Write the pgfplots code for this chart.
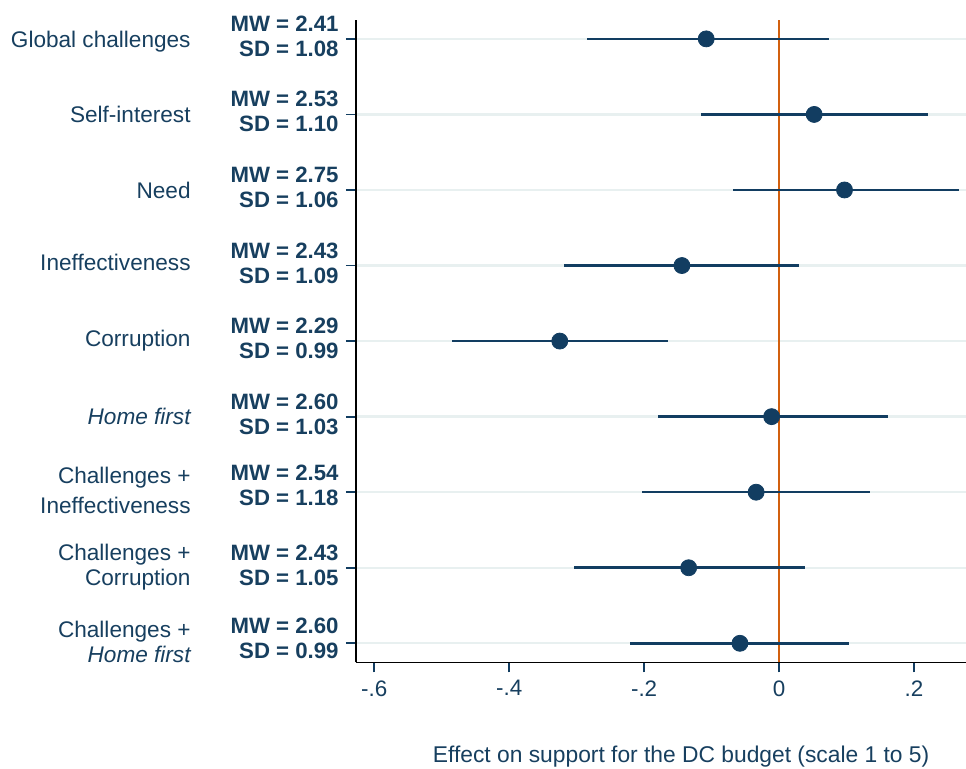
\documentclass[border=0pt]{standalone}
\usepackage{pgfplots}
\pgfplotsset{compat=1.18}
\usepackage{pgfplotstable}
\usepackage{fontspec}
\setmainfont{Liberation Sans}
\definecolor{navy}{HTML}{123D61}
\definecolor{txt}{HTML}{173F5F}
\definecolor{zero}{HTML}{D2600F}
\definecolor{gridc}{HTML}{E8F0F0}
\pgfplotstableread{
row est lo hi
9 -0.108 -0.285 0.074
8 0.052 -0.116 0.221
7 0.097 -0.069 0.266
6 -0.144 -0.318 0.030
5 -0.325 -0.485 -0.165
4 -0.011 -0.180 0.161
3 -0.034 -0.203 0.135
2 -0.134 -0.304 0.039
1 -0.058 -0.221 0.104
}\coefs
\newcommand{\lab}[4][0pt]{\makebox[95pt][r]{\fontsize{11.3}{12.5}\selectfont\raisebox{-#1}{\begin{tabular}{@{}r@{}}#2\end{tabular}}}\makebox[74pt][r]{\bfseries\begin{tabular}{@{}r@{}}MW = #3\\SD = #4\end{tabular}}}
\begin{document}
\begin{tikzpicture}
\useasboundingbox (-178pt,-53.25pt) rectangle (305pt,331.25pt);
\begin{axis}[
  at={(0,0)}, anchor=south west,
  scale only axis, width=305pt, height=321.25pt,
  xmin=-0.627, xmax=0.277, ymin=0.746, ymax=9.25,
  axis x line=bottom, axis y line=left,
  axis line style={-, black, line width=0.9pt},
  tick align=outside, major tick length=5pt,
  tick style={navy, line width=0.9pt},
  xtick={-0.6,-0.4,-0.2,0,0.2},
  xticklabels={-.6,-.4,-.2,0,.2},
  ytick={1,...,9},
  yticklabels={
    {\lab[2pt]{Challenges +\\\itshape Home first}{2.60}{0.99}},
    {\lab{Challenges +\\Corruption}{2.43}{1.05}},
    {\lab[3pt]{Challenges +\\[2.5pt]Ineffectiveness}{2.54}{1.18}},
    {\lab[1.5pt]{\itshape Home first}{2.60}{1.03}},
    {\lab{Corruption}{2.29}{0.99}},
    {\lab{Ineffectiveness}{2.43}{1.09}},
    {\lab[2pt]{Need}{2.75}{1.06}},
    {\lab[1.5pt]{Self-interest}{2.53}{1.10}},
    {\lab[2pt]{Global challenges}{2.41}{1.08}}},
  yticklabel style={font=\fontsize{11.1}{12.5}\selectfont, text=txt, anchor=east, inner sep=0pt, xshift=-3.5pt},
  xticklabel style={font=\fontsize{11.2}{13}\selectfont, text=txt, anchor=north, inner sep=0pt, yshift=-3.75pt},
  ymajorgrids, grid style={gridc, line width=1.2pt},
  clip=false,
]
\addplot[zero, line width=1.2pt] coordinates {(0,0.746) (0,9.25)};
\addplot[navy, only marks, mark=*, mark size=4pt, mark options={fill=navy, draw=navy},
  error bars/.cd, x dir=both, x explicit, error mark=none,
  error bar style={navy, line width=1.25pt}]
  table[x=est, y=row, x error plus expr=\thisrow{hi}-\thisrow{est}, x error minus expr=\thisrow{est}-\thisrow{lo}] {\coefs};
\node[text=txt, font=\fontsize{11.4}{13}\selectfont, anchor=center] at ([yshift=-47.25pt]rel axis cs:0.533,0) {Effect on support for the DC budget (scale 1 to 5)};
\end{axis}
\end{tikzpicture}
\end{document}
